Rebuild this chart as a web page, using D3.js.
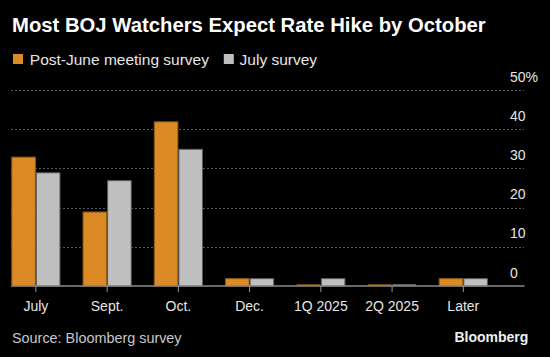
<!DOCTYPE html>
<html><head><meta charset="utf-8">
<script src="https://cdn.jsdelivr.net/npm/d3@7"></script>
<style>
html,body{margin:0;padding:0;background:#000;}
svg{display:block;}
text{font-family:"Liberation Sans",Arial,sans-serif;}
</style></head>
<body>
<svg id="chart" width="550" height="357"></svg>
<script>
const categories = ["July","Sept.","Oct.","Dec.","1Q 2025","2Q 2025","Later"];
const seriesNames = ["Post-June meeting survey","July survey"];
const postJune = [33,19,42,2,0,0,2];
const july = [29,27,35,2,2,0,2];
const yTicks = [0,10,20,30,40,50];
const yTickLabels = ["0","10","20","30","40","50%"];
const title = "Most BOJ Watchers Expect Rate Hike by October";
const source = "Source: Bloomberg survey";
const brand = "Bloomberg";

const colors = ["#dc8a25","#c0c0c0"];
const strokes = ["#8f5a1a","#5e5e5e"];

const svg = d3.select("#chart");
svg.append("rect").attr("width",550).attr("height",357).attr("fill","#000");

const y = d3.scaleLinear().domain([0,50]).range([286,90]);
const x = d3.scaleBand().domain(categories).range([11.3,487.9]).paddingInner(0.31).paddingOuter(0);
const xs = d3.scaleBand().domain(seriesNames).range([0,x.bandwidth()]);

// title
svg.append("text").attr("x",12).attr("y",31.5).attr("fill","#fff")
  .attr("font-weight","bold").attr("font-size","20.3px").text(title);

// legend
const leg = [{x:13,tx:29.8},{x:223.8,tx:239.6}];
seriesNames.forEach((s,i)=>{
  svg.append("rect").attr("x",leg[i].x).attr("y",54).attr("width",10).attr("height",10).attr("fill",colors[i]);
  svg.append("text").attr("x",leg[i].tx).attr("y",64.5).attr("fill","#e6e6e6").attr("font-size","15.5px").text(s);
});

// gridlines
svg.append("g").selectAll("line").data(yTicks.filter(d=>d>0)).join("line")
  .attr("x1",11).attr("x2",524).attr("y1",d=>Math.round(y(d))+0.5).attr("y2",d=>Math.round(y(d))+0.5)
  .attr("stroke","#5a5a5a").attr("stroke-width",1).attr("stroke-dasharray","2,2");

// y labels
svg.append("g").selectAll("text").data(yTicks).join("text")
  .attr("x",510).attr("y",d=>y(d)-8.5).attr("fill","#e6e6e6").attr("font-size","14px")
  .text((d,i)=>yTickLabels[i]);

// bars
const data = [postJune, july];
const groups = svg.append("g");
data.forEach((vals,si)=>{
  groups.append("g").selectAll("rect").data(categories.map((c,i)=>({c,v:vals[i]}))).join("rect")
    .attr("x",d=>x(d.c)+xs(seriesNames[si])+0.5)
    .attr("width",xs.bandwidth()-1)
    .attr("y",d=> d.v>0 ? y(d.v)+0.5 : y(0)-1.5)
    .attr("height",d=> d.v>0 ? y(0)-y(d.v)-0.5 : 1)
    .attr("fill",colors[si])
    .attr("stroke",d=> d.v>0 ? strokes[si] : "none")
    .attr("stroke-width",1);
});

// axis
const axis = d3.axisBottom(x).tickSize(6).tickPadding(13);
const ag = svg.append("g").attr("transform","translate(0,286)").call(axis);
ag.select(".domain").remove();
ag.selectAll(".tick line").attr("stroke","#9a9a9a").attr("stroke-width",1);
ag.selectAll(".tick text").attr("fill","#e6e6e6").attr("font-size","14px")
  .attr("font-family","'Liberation Sans',Arial,sans-serif").attr("dy",null).attr("y",25);
svg.append("line").attr("x1",11.3).attr("x2",524.5).attr("y1",286).attr("y2",286)
  .attr("stroke","#8a8a8a").attr("stroke-width",1.6);

// footer
svg.append("text").attr("x",12).attr("y",343.3).attr("fill","#c8c8c8").attr("font-size","14.4px").text(source);
svg.append("text").attr("x",528.3).attr("y",341.7).attr("text-anchor","end").attr("fill","#f0f0f0")
  .attr("font-weight","bold").attr("font-size","14px").text(brand);
</script>
</body></html>
